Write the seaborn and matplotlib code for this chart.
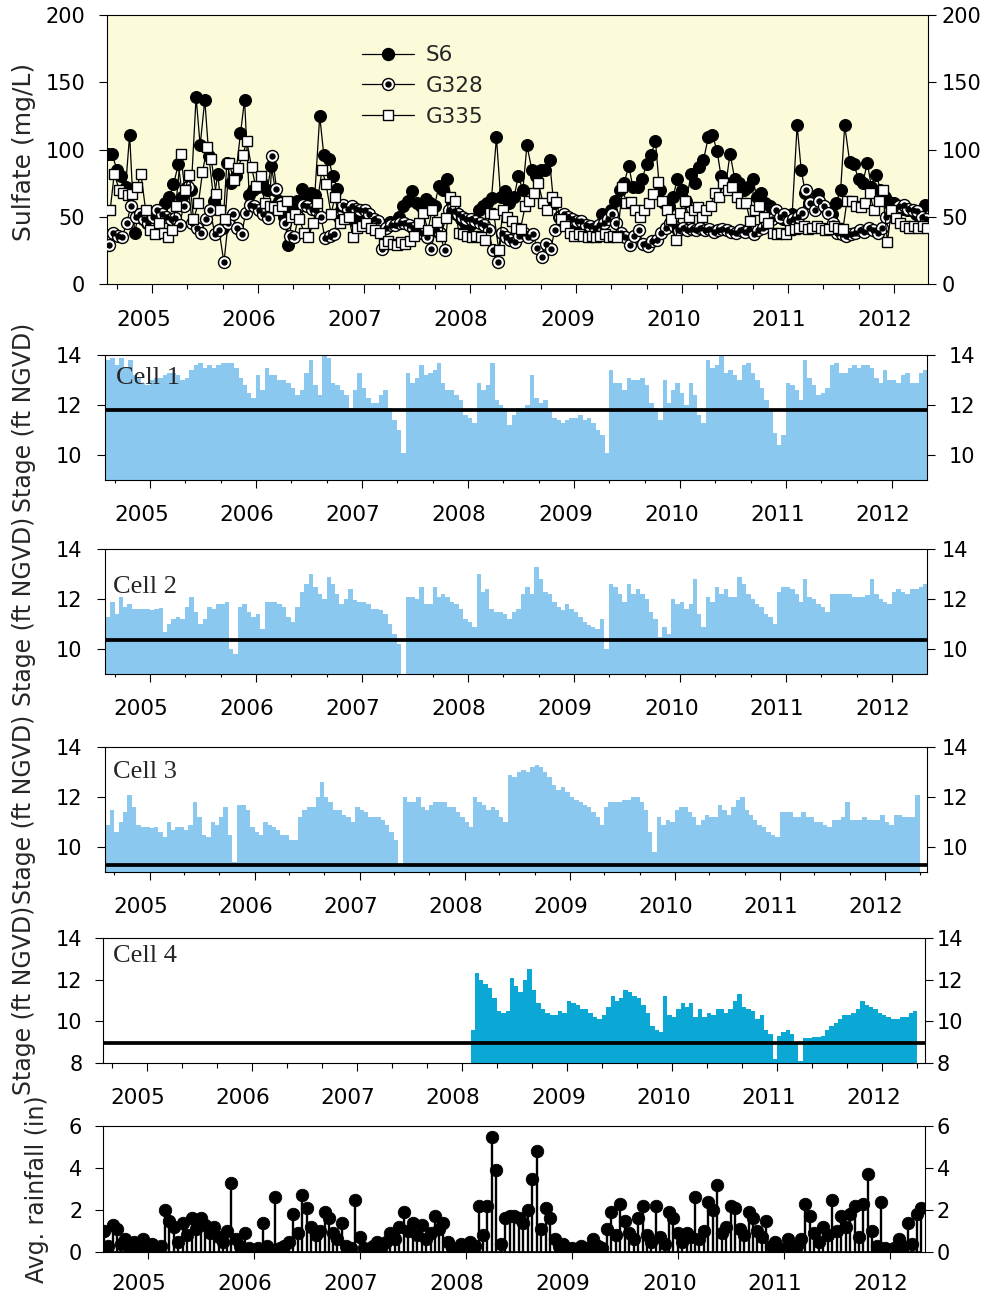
import numpy as np
import pandas as pd
import matplotlib
matplotlib.use("Agg")
import matplotlib.pyplot as plt
import matplotlib.dates as mdates
from matplotlib.lines import Line2D
from matplotlib.legend_handler import HandlerTuple
from matplotlib.transforms import ScaledTranslation
import seaborn as sns

# ---------------------------------------------------------------------------
# Data: semi-monthly values (1st and 15th of each month), Aug 2004 - Apr 2012
# ---------------------------------------------------------------------------
SERIES_START = "2004-08-01"
CELL4_START = "2008-02-01"          # Cell 4 records begin in Feb 2008

stations = ["S6", "G328", "G335"]

sulfate_s6 = (
    [97, 97, 85, 80, 72, 111, 38, 52, 48, 45]
    + [50, 47, 55, 60, 65, 74, 89, 65, 72, 70, 139, 103, 137, 95, 62, 82, 42, 90, 75, 80, 112, 137, 66, 70]
    + [72, 75, 70, 88, 70, 62, 50, 29, 55, 62, 71, 65, 68, 66, 125, 96, 93, 80, 71, 55, 50, 52, 47, 48]
    + [46, 44, 45, 43, 42, 44, 46, 45, 50, 58, 62, 69, 60, 58, 63, 60, 58, 73, 70, 78, 60, 52, 48, 45]
    + [44, 46, 55, 58, 60, 64, 109, 65, 69, 60, 65, 80, 70, 103, 85, 80, 85, 85, 92, 60, 50, 47, 46, 45]
    + [44, 42, 42, 41, 40, 42, 52, 48, 55, 62, 70, 75, 88, 72, 72, 78, 89, 96, 106, 70, 60, 58, 65, 78]
    + [70, 62, 82, 75, 87, 92, 109, 111, 99, 80, 75, 97, 78, 75, 70, 72, 78, 65, 68, 60, 58, 55, 50, 48]
    + [50, 52, 118, 85, 68, 60, 62, 67, 58, 55, 52, 60, 70, 118, 91, 89, 78, 75, 90, 72, 81, 70, 65, 61]
    + [60, 58, 56, 55, 55, 52, 50, 59]
)

sulfate_g328 = (
    [29, 38, 36, 35, 45, 58, 50, 52, 48, 45]
    + [50, 55, 52, 50, 48, 49, 44, 58, 72, 45, 42, 38, 48, 55, 37, 40, 16, 45, 52, 42, 37, 53, 59, 58]
    + [55, 52, 49, 95, 71, 60, 45, 36, 35, 50, 59, 58, 56, 55, 50, 34, 36, 37, 50, 59, 56, 58, 56, 55]
    + [55, 52, 48, 47, 26, 42, 44, 44, 45, 45, 44, 42, 40, 38, 35, 26, 40, 38, 25, 55, 54, 52, 50, 48]
    + [48, 47, 45, 44, 40, 25, 16, 38, 35, 33, 31, 36, 38, 35, 37, 27, 20, 30, 26, 40, 50, 52, 50, 48]
    + [47, 47, 44, 43, 42, 44, 45, 48, 52, 45, 38, 35, 29, 36, 40, 30, 28, 32, 33, 38, 42, 45, 43, 40]
    + [42, 40, 41, 40, 42, 40, 41, 39, 40, 41, 40, 39, 38, 40, 39, 41, 37, 40, 42, 45, 48, 55, 50, 52]
    + [47, 48, 50, 53, 70, 60, 55, 62, 58, 53, 45, 38, 37, 36, 37, 38, 40, 39, 42, 40, 38, 42, 50, 55]
    + [56, 58, 59, 56, 55, 54, 50, 48]
)

sulfate_g335 = (
    [55, 82, 70, 68, 66, 67, 72, 82, 55, 40]
    + [37, 45, 38, 35, 40, 58, 97, 70, 81, 48, 60, 83, 102, 93, 67, 55, 48, 90, 77, 86, 96, 106, 87, 73]
    + [80, 60, 58, 57, 55, 58, 62, 50, 52, 48, 38, 35, 45, 60, 85, 74, 52, 65, 45, 48, 50, 35, 42, 43]
    + [45, 42, 40, 38, 30, 32, 30, 29, 31, 30, 32, 36, 45, 53, 40, 55, 46, 36, 49, 65, 62, 38, 37, 36]
    + [35, 36, 35, 33, 53, 52, 25, 55, 50, 47, 42, 41, 58, 62, 68, 75, 60, 55, 65, 61, 48, 43, 38, 36]
    + [37, 36, 35, 36, 35, 36, 37, 35, 36, 35, 72, 60, 61, 55, 50, 55, 60, 67, 76, 62, 55, 48, 33, 53]
    + [62, 50, 55, 57, 50, 55, 58, 68, 65, 75, 70, 72, 65, 60, 60, 47, 55, 58, 50, 45, 38, 37, 38, 37]
    + [40, 41, 42, 43, 41, 42, 43, 42, 40, 41, 43, 42, 41, 62, 62, 58, 57, 60, 68, 55, 62, 70, 31, 55]
    + [49, 45, 43, 42, 43, 42, 43, 42]
)

cell_names = ["Cell 1", "Cell 2", "Cell 3", "Cell 4"]

stage_cell1 = (
    [13.8, 13.9, 13.6, 13.9, 13.5, 13.8, 13.2, 13.1, 12.9, 12.8]
    + [13.0, 13.1, 13.1, 13.2, 13.3, 13.3, 13.2, 13.0, 13.1, 13.4, 13.6, 13.7, 13.5, 13.6, 13.5, 13.6, 13.7, 13.7, 13.7, 13.5, 13.1, 12.8, 12.5, 12.3]
    + [13.2, 12.6, 13.5, 13.2, 13.2, 13.0, 13.0, 12.9, 12.7, 12.4, 12.6, 13.3, 13.8, 12.8, 12.4, 14.0, 13.9, 12.9, 12.8, 12.6, 12.4, 11.9, 12.6, 13.3]
    + [12.7, 12.3, 12.1, 12.1, 12.4, 12.6, 11.9, 11.4, 11.0, 10.1, 13.3, 12.9, 13.1, 13.6, 13.2, 13.3, 13.4, 13.7, 12.9, 12.6, 12.6, 12.4, 12.2, 11.6]
    + [11.5, 11.3, 12.9, 12.6, 12.8, 13.7, 12.2, 12.0, 11.9, 11.2, 11.6, 11.9, 11.8, 12.0, 13.2, 12.3, 12.1, 12.2, 11.8, 11.5, 11.4, 11.3, 11.4, 11.5]
    + [11.5, 11.6, 11.4, 11.5, 11.3, 11.0, 10.8, 10.1, 13.4, 12.9, 12.9, 12.6, 13.1, 13.0, 13.0, 13.1, 12.8, 12.1, 11.9, 11.4, 13.0, 12.1, 12.6, 12.9]
    + [12.5, 12.0, 12.9, 12.4, 11.6, 11.3, 13.8, 13.5, 13.6, 14.0, 13.3, 13.4, 13.2, 13.0, 13.6, 13.7, 13.3, 13.0, 12.7, 12.2, 11.8, 10.9, 10.4, 10.8]
    + [12.9, 12.8, 12.6, 12.2, 13.8, 13.1, 12.8, 12.4, 12.5, 12.7, 13.6, 13.7, 13.3, 13.3, 13.5, 13.6, 13.5, 13.6, 13.6, 13.5, 13.1, 12.9, 13.4, 13.0]
    + [13.0, 12.9, 13.2, 13.3, 12.9, 12.9, 13.3, 13.4]
)

stage_cell2 = (
    [11.3, 11.9, 11.4, 12.1, 11.7, 11.8, 11.6, 11.6, 11.6, 11.6]
    + [11.55, 11.6, 11.65, 10.7, 11.0, 11.2, 11.3, 11.2, 11.7, 12.1, 11.5, 11.0, 11.2, 11.7, 11.6, 11.8, 11.8, 11.9, 10.0, 9.8, 11.7, 11.8, 11.5, 11.3]
    + [11.4, 10.8, 11.9, 11.9, 11.9, 11.8, 11.7, 11.3, 11.1, 11.7, 12.3, 12.6, 13.0, 12.5, 12.2, 12.0, 12.9, 12.6, 12.2, 11.8, 12.0, 12.4, 11.95, 11.9]
    + [11.9, 11.8, 11.6, 11.6, 11.55, 11.4, 11.0, 10.6, 10.2, 9.0, 12.1, 12.1, 12.0, 12.5, 11.8, 11.8, 12.5, 12.1, 12.2, 12.1, 11.9, 11.8, 11.6, 11.2]
    + [11.1, 10.9, 13.0, 12.3, 12.4, 11.6, 11.5, 11.5, 11.4, 11.2, 11.5, 11.6, 12.2, 12.5, 12.2, 13.3, 12.8, 12.3, 12.2, 11.9, 11.7, 11.55, 11.8, 11.6]
    + [11.5, 11.3, 11.1, 10.95, 10.9, 10.8, 11.2, 10.0, 12.6, 12.5, 12.2, 11.9, 12.6, 12.2, 12.4, 12.2, 12.0, 11.5, 11.2, 10.5, 10.9, 10.6, 12.0, 11.8]
    + [11.9, 11.6, 11.8, 12.8, 11.4, 10.9, 12.1, 11.9, 12.5, 12.2, 12.4, 12.1, 12.1, 12.9, 12.6, 12.2, 12.0, 11.8, 11.7, 11.4, 11.3, 11.0, 12.3, 12.5]
    + [12.5, 12.4, 12.2, 11.9, 12.8, 12.1, 12.0, 11.8, 11.7, 11.5, 12.2, 12.2, 12.2, 12.2, 12.2, 12.1, 12.1, 12.1, 12.15, 12.8, 12.2, 12.0, 11.9, 11.8]
    + [12.3, 12.4, 12.3, 12.2, 12.4, 12.4, 12.5, 12.6]
)

stage_cell3 = (
    [10.9, 11.5, 10.6, 11.0, 11.4, 12.1, 11.6, 10.9, 10.8, 10.8]
    + [10.75, 10.8, 10.6, 10.4, 11.0, 10.7, 10.8, 10.8, 10.7, 10.9, 11.8, 11.2, 10.5, 10.4, 11.0, 10.9, 11.2, 11.6, 10.5, 9.4, 11.7, 11.7, 11.5, 10.8]
    + [10.6, 10.5, 11.0, 10.9, 10.8, 10.7, 10.5, 10.5, 10.3, 10.3, 11.2, 11.5, 11.6, 11.6, 12.0, 12.6, 12.0, 11.8, 11.5, 11.5, 11.3, 11.2, 11.0, 11.6]
    + [11.5, 11.4, 11.2, 11.2, 11.2, 11.1, 10.9, 10.6, 10.3, 9.2, 12.0, 11.8, 11.8, 12.0, 11.6, 11.5, 11.7, 11.8, 11.8, 11.8, 11.6, 11.6, 11.4, 11.2]
    + [11.0, 10.8, 12.0, 11.8, 11.7, 11.5, 11.6, 11.5, 11.2, 11.0, 12.9, 12.8, 13.0, 13.1, 13.0, 13.2, 13.3, 13.2, 13.0, 12.8, 12.5, 12.3, 12.4, 12.2]
    + [12.0, 11.9, 11.8, 11.7, 11.6, 11.4, 11.2, 10.9, 11.6, 11.8, 11.8, 11.8, 11.9, 11.9, 12.0, 12.0, 11.8, 11.5, 10.6, 9.8, 11.2, 10.9, 11.1, 11.0]
    + [11.5, 11.6, 11.6, 11.4, 11.2, 10.9, 11.1, 11.3, 11.2, 11.2, 11.7, 11.5, 11.3, 11.6, 11.9, 12.0, 11.5, 11.3, 11.1, 10.9, 10.8, 10.6, 10.5, 10.4]
    + [11.4, 11.4, 11.4, 11.2, 11.2, 11.4, 11.2, 11.2, 11.0, 11.0, 10.9, 10.8, 11.1, 11.1, 11.2, 11.8, 11.1, 11.1, 11.1, 11.2, 11.1, 11.1, 11.1, 11.3]
    + [11.0, 10.9, 11.3, 11.3, 11.2, 11.2, 11.2, 12.1]
)

stage_cell4 = (
    [9.6, 12.3, 12.0, 11.8, 11.6, 11.1, 10.5, 10.4, 10.5, 12.1, 11.7, 11.4, 12.0, 12.5, 11.5, 10.9, 10.6, 10.4, 10.3, 10.3, 10.5, 10.4]
    + [11.0, 10.9, 10.8, 10.6, 10.6, 10.4, 10.2, 10.1, 10.3, 10.7, 11.2, 11.0, 11.1, 11.5, 11.4, 11.2, 11.1, 10.8, 10.4, 9.8, 9.6, 9.5, 11.2, 10.3]
    + [10.2, 10.6, 10.9, 10.7, 10.9, 10.2, 10.6, 10.2, 10.4, 10.3, 10.6, 10.6, 10.4, 10.6, 11.0, 11.3, 10.7, 10.6, 10.5, 10.1, 10.3, 9.6, 9.4, 8.2]
    + [9.3, 9.5, 9.6, 9.4, 8.9, 8.1, 9.2, 9.2, 9.25, 9.25, 9.3, 9.6, 9.8, 9.9, 10.1, 10.3, 10.3, 10.4, 10.6, 11.0, 10.8, 10.7, 10.6, 10.4]
    + [10.3, 10.2, 10.1, 10.1, 10.2, 10.2, 10.4, 10.5]
)

reference_stage = [11.8, 10.35, 9.3, 8.95]   # ft NGVD, one per cell

rainfall = (
    [1.0, 0.3, 1.3, 1.1, 0.4, 0.6, 0.2, 0.5, 0.1, 0.6]
    + [0.1, 0.4, 0.2, 0.3, 2.0, 1.5, 1.2, 0.5, 1.4, 0.8, 1.6, 1.1, 1.6, 1.3, 0.9, 1.2, 0.7, 0.5, 1.0, 3.3, 0.6, 0.3, 0.9, 0.2]
    + [0.1, 0.2, 1.4, 0.3, 0.1, 2.6, 0.2, 0.3, 0.5, 1.8, 0.9, 2.7, 2.1, 1.2, 0.8, 1.0, 1.9, 1.6, 0.9, 0.6, 1.4, 0.3, 0.2, 2.5]
    + [0.7, 0.2, 0.1, 0.3, 0.5, 0.2, 0.5, 0.9, 0.6, 1.2, 1.9, 1.0, 1.4, 0.8, 1.3, 0.6, 0.9, 1.7, 1.1, 1.4, 0.5, 0.2, 0.1, 0.4]
    + [0.2, 0.5, 0.3, 2.2, 0.8, 2.2, 5.5, 3.9, 0.4, 1.6, 1.7, 1.7, 1.6, 1.4, 2.0, 3.5, 4.8, 1.1, 2.1, 1.6, 0.6, 0.3, 0.4, 0.1]
    + [0.2, 0.1, 0.3, 0.2, 0.1, 0.6, 0.3, 0.2, 1.1, 1.9, 0.8, 2.3, 1.5, 0.9, 0.6, 1.6, 2.2, 0.8, 0.5, 2.2, 0.7, 0.4, 1.9, 1.6]
    + [0.9, 0.5, 0.9, 0.7, 2.6, 0.6, 1.0, 2.4, 2.0, 3.2, 0.9, 1.2, 2.2, 2.1, 1.1, 0.8, 1.9, 1.6, 1.0, 0.7, 1.5, 0.3, 0.5, 0.2]
    + [0.1, 0.6, 0.2, 0.3, 0.6, 2.3, 1.7, 0.9, 0.5, 1.2, 0.8, 2.5, 1.0, 1.7, 1.2, 1.8, 2.2, 0.7, 2.3, 3.7, 1.0, 0.3, 2.4, 0.2]
    + [0.1, 0.2, 0.6, 0.3, 1.4, 0.4, 1.8, 2.1]
)

year_ticks = [2005, 2006, 2007, 2008, 2009, 2010, 2011, 2012]

# ---------------------------------------------------------------------------
# Styling
# ---------------------------------------------------------------------------
sns.set_theme(style="ticks", rc={"axes.edgecolor": "black", "axes.linewidth": 0.8,
                                 "xtick.color": "black", "ytick.color": "black"})
plt.rcParams["font.family"] = ["DejaVu Sans"]

W, H = 987, 1300
fig = plt.figure(figsize=(W / 100, H / 100), dpi=100)
fig.patch.set_facecolor("white")

TICK_FS = 15
YEAR_FS = 15.5
YLABEL_FS = 18


def px_rect(left, top, right, bottom):
    return [left / W, 1 - bottom / H, (right - left) / W, (bottom - top) / H]


def half_months(start, n, day_offset=0):
    idx = pd.date_range(start, periods=n, freq="SMS") + pd.Timedelta(days=day_offset)
    return mdates.date2num(idx.to_pydatetime())


def shift(label, dx_px, dy_px=0.0):
    label.set_transform(label.get_transform()
                        + ScaledTranslation(dx_px / 100.0, dy_px / 100.0, fig.dpi_scale_trans))


def time_axis(ax, xlim, major_len, minor_len, pad):
    ax.set_xlim(mdates.date2num(pd.Timestamp(xlim[0])), mdates.date2num(pd.Timestamp(xlim[1])))
    ax.set_xticks([mdates.date2num(pd.Timestamp(f"{y}-01-01")) for y in year_ticks])
    ax.set_xticklabels([str(y) for y in year_ticks])
    if minor_len > 0:
        ax.xaxis.set_minor_locator(mdates.MonthLocator(bymonth=[5, 9]))
    ax.tick_params(axis="x", which="major", direction="out", length=major_len, width=0.8,
                   pad=pad, labelsize=YEAR_FS, top=False, bottom=True)
    ax.tick_params(axis="x", which="minor", direction="out", length=minor_len, width=0.8,
                   top=False, bottom=minor_len > 0)
    ax.set_xlabel("")


def value_axis(ax, ylim, yticks, left_gap, right_gap):
    ax.set_ylim(*ylim)
    ax.set_yticks(yticks)
    ax.set_yticklabels([str(v) for v in yticks])
    ax.tick_params(axis="y", which="major", direction="out", length=5.5, width=0.8,
                   left=True, right=True, labelleft=True, labelright=True,
                   labelsize=TICK_FS, pad=left_gap * 0.72)
    ax.set_ylabel("")
    for spine in ax.spines.values():
        spine.set_visible(True)
        spine.set_linewidth(0.8)
        spine.set_color("black")


def finish_labels(ax, right_gap, left_gap):
    for t in ax.xaxis.get_major_ticks():
        shift(t.label1, -9)
    for t in ax.yaxis.get_major_ticks():
        shift(t.label2, -(left_gap - right_gap))


# ---------------------------------------------------------------------------
# Panel 1: sulfate concentrations
# ---------------------------------------------------------------------------
ax = fig.add_axes(px_rect(107, 15, 928, 284))
ax.set_facecolor("#FBFBDA")

x_s6 = half_months(SERIES_START, len(sulfate_s6), 0)
x_g328 = half_months(SERIES_START, len(sulfate_g328), 4)
x_g335 = half_months(SERIES_START, len(sulfate_g335), 8)

sns.lineplot(x=x_s6, y=sulfate_s6, ax=ax, color="black", linewidth=0.9, marker="o",
             markersize=8.6, markerfacecolor="black", markeredgecolor="black",
             sort=False, estimator=None, zorder=2)
sns.lineplot(x=x_g328, y=sulfate_g328, ax=ax, color="black", linewidth=0.9, marker="o",
             markersize=8.6, markerfacecolor="white", markeredgecolor="black",
             markeredgewidth=1.0, sort=False, estimator=None, zorder=3)
ax.plot(x_g328, sulfate_g328, linestyle="none", marker="o", markersize=3.6,
        color="black", zorder=3.1)
sns.lineplot(x=x_g335, y=sulfate_g335, ax=ax, color="black", linewidth=0.9, marker="s",
             markersize=7.9, markerfacecolor="white", markeredgecolor="black",
             markeredgewidth=1.0, sort=False, estimator=None, zorder=4)

value_axis(ax, (0, 200), [0, 50, 100, 150, 200], 14, 6)
time_axis(ax, ("2004-07-29", "2012-04-27"), 6.5, 3.6, 12)

h_s6 = Line2D([], [], color="black", lw=0.9, marker="o", ms=8.6, mfc="black", mec="black")
h_g328 = Line2D([], [], color="black", lw=0.9, marker="o", ms=8.6, mfc="white", mec="black")
h_g328_dot = Line2D([], [], linestyle="none", marker="o", ms=3.6, color="black")
h_g335 = Line2D([], [], color="black", lw=0.9, marker="s", ms=7.9, mfc="white", mec="black")
ax.legend([h_s6, (h_g328, h_g328_dot), h_g335], stations,
          handler_map={tuple: HandlerTuple(ndivide=1, pad=0)},
          loc="upper left", bbox_to_anchor=(0.31, 0.888), frameon=False,
          borderaxespad=0, borderpad=0, handlelength=2.45, handletextpad=0.55,
          labelspacing=0.5, fontsize=YEAR_FS)
finish_labels(ax, 6, 14)
fig.text(24 / W, 1 - 152 / H, "Sulfate (mg/L)", rotation=90, ha="center", va="center",
         fontsize=YLABEL_FS)

# ---------------------------------------------------------------------------
# Panels 2-5: stage in each cell
# ---------------------------------------------------------------------------
stage_panels = [
    dict(rect=(105, 355, 927, 480), start=SERIES_START, values=stage_cell1, color="#8BC8EF",
         ylim=(9, 14), yticks=[10, 12, 14], xlim=("2004-07-29", "2012-04-30"),
         minor=1.8, gaps=(15, 14), text_xy=(0.0134, 0.768), ylab_y=417),
    dict(rect=(105, 549, 927, 674), start=SERIES_START, values=stage_cell2, color="#8BC8EF",
         ylim=(9, 14), yticks=[10, 12, 14], xlim=("2004-07-30", "2012-04-30"),
         minor=1.8, gaps=(15, 7), text_xy=(0.0097, 0.65), ylab_y=611),
    dict(rect=(105, 747, 927, 872), start=SERIES_START, values=stage_cell3, color="#8BC8EF",
         ylim=(9, 14), yticks=[10, 12, 14], xlim=("2004-07-30", "2012-05-27"),
         minor=1.8, gaps=(15, 7), text_xy=(0.0097, 0.754), ylab_y=809),
    dict(rect=(103, 938, 925, 1063), start=CELL4_START, values=stage_cell4, color="#0BA7D5",
         ylim=(8, 14), yticks=[8, 10, 12, 14], xlim=("2004-08-01", "2012-05-28"),
         minor=3.6, gaps=(13, 4), text_xy=(0.012, 0.81), ylab_y=1000),
]

for i, p in enumerate(stage_panels):
    ax = fig.add_axes(px_rect(*p["rect"]))
    vals = np.asarray(p["values"], dtype=float)
    x_edges = half_months(p["start"], len(vals) + 1)
    ax.fill_between(x_edges, p["ylim"][0], np.append(vals, vals[-1]), step="post",
                    color=p["color"], linewidth=0, zorder=1)
    ax.axhline(reference_stage[i], color="black", linewidth=2.7, zorder=3)
    value_axis(ax, p["ylim"], p["yticks"], *p["gaps"])
    time_axis(ax, p["xlim"], 5.8, p["minor"], 12.5)
    ax.text(p["text_xy"][0], p["text_xy"][1], cell_names[i], transform=ax.transAxes,
            ha="left", va="baseline", fontsize=19, family="Liberation Serif", zorder=4)
    finish_labels(ax, p["gaps"][1], p["gaps"][0])
    fig.text(24 / W, 1 - p["ylab_y"] / H, "Stage (ft NGVD)", rotation=90, ha="center",
             va="center", fontsize=17)

# ---------------------------------------------------------------------------
# Panel 6: average rainfall
# ---------------------------------------------------------------------------
ax = fig.add_axes(px_rect(103, 1126, 925, 1252))
x_rain = half_months(SERIES_START, len(rainfall))
markerline, stemlines, baseline = ax.stem(x_rain, rainfall, linefmt="k-", markerfmt="ko",
                                          basefmt="k-")
plt.setp(markerline, markersize=9.0, color="black", markerfacecolor="black",
         markeredgecolor="black", markeredgewidth=0.6, zorder=3)
plt.setp(stemlines, linewidth=1.7, color="black")
plt.setp(baseline, linewidth=1.2, color="black")
value_axis(ax, (0, 6), [0, 2, 4, 6], 13, 4)
time_axis(ax, ("2004-07-30", "2012-04-30"), 5.0, 0, 11)
finish_labels(ax, 4, 13)
fig.text(37 / W, 1 - 1189 / H, "Avg. rainfall (in)", rotation=90, ha="center",
         va="center", fontsize=17)

fig.savefig("out.png", dpi=100, facecolor="white")
